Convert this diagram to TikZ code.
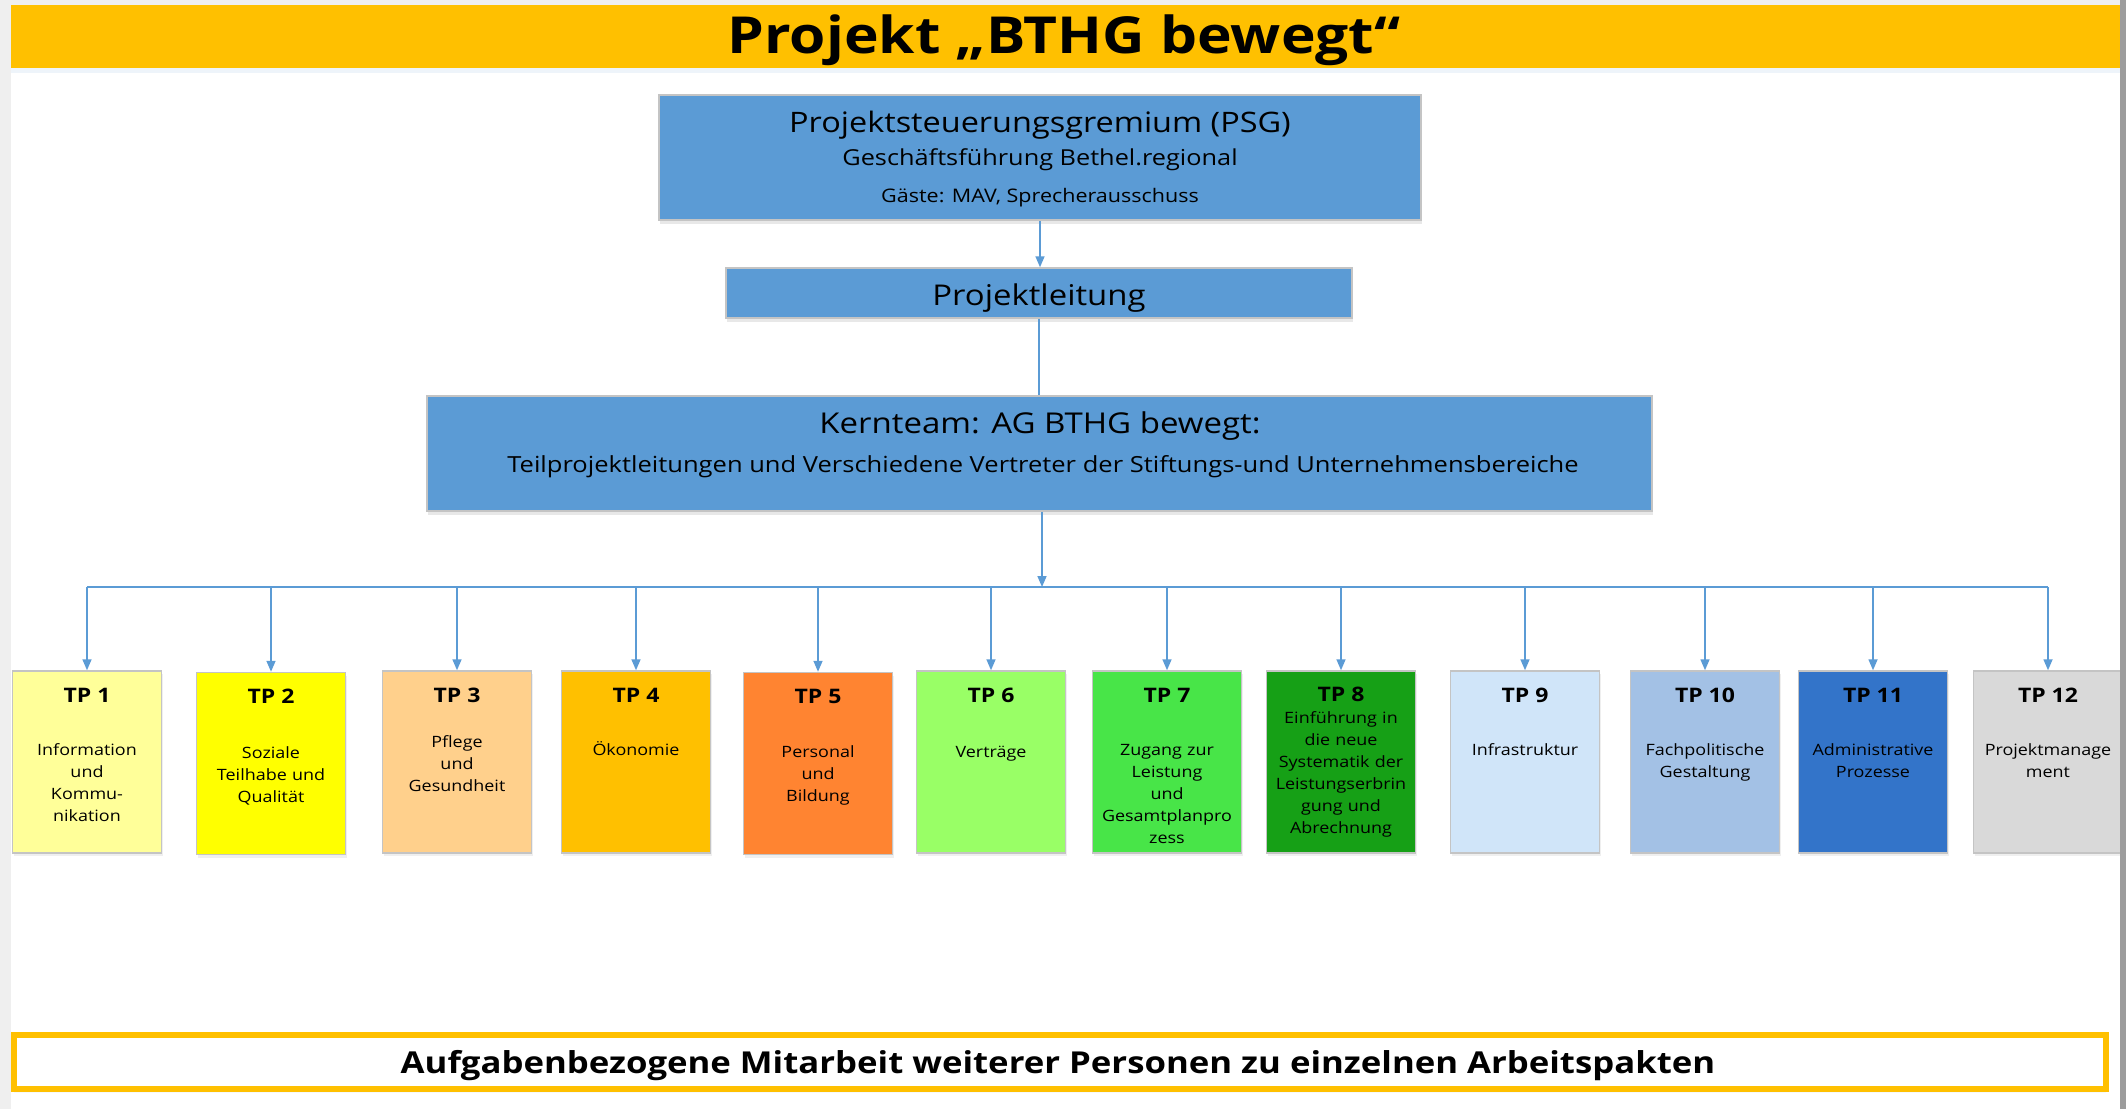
\documentclass[tikz,border=0pt]{standalone}
\usepackage{fontspec}
\setmainfont{Open Sans}[FakeStretch=1.15]
\usetikzlibrary{arrows.meta,positioning,shadows}

\definecolor{gold}{HTML}{FFC000}
\definecolor{officeblue}{HTML}{5B9BD5}
\definecolor{boxgray}{HTML}{C4C4C4}
\definecolor{pagegray}{HTML}{EFEFEF}
\definecolor{edgegray}{HTML}{9C9C9C}
\definecolor{tpA}{HTML}{FFFF99}
\definecolor{tpB}{HTML}{FFFF00}
\definecolor{tpC}{HTML}{FFD08C}
\definecolor{tpD}{HTML}{FFC000}
\definecolor{tpE}{HTML}{FF8431}
\definecolor{tpF}{HTML}{99FF66}
\definecolor{tpG}{HTML}{48E548}
\definecolor{tpH}{HTML}{16A016}
\definecolor{tpI}{HTML}{D0E5F9}
\definecolor{tpJ}{HTML}{A3C1E5}
\definecolor{tpK}{HTML}{3374C9}
\definecolor{tpL}{HTML}{D9D9D9}

\newcommand{\setfs}[2]{\fontsize{#1}{#2}\selectfont}

\tikzset{
	bluebox/.style={draw=boxgray, line width=1.5pt, fill=officeblue, inner sep=0pt,
		drop shadow={shadow xshift=1pt, shadow yshift=-4pt, opacity=0.18}},
	tpbox/.style={draw=boxgray, line width=1.5pt, fill=#1, minimum width=149pt,
		minimum height=182pt, inner sep=0pt,
		drop shadow={shadow xshift=1pt, shadow yshift=-3pt, opacity=0.12}},
	tptitle/.style={anchor=base, inner sep=0pt, font={\setfs{20}{24}\bfseries}},
	tpdesc/.style={anchor=base, inner sep=0pt, text width=148pt, align=center,
		font={\setfs{15.6}{22}}},
	boxtext/.style={anchor=base, inner sep=0pt},
	link/.style={draw=officeblue, line width=1.6pt},
}

\begin{document}
\begin{tikzpicture}[x=1pt, y=-1pt, >={Triangle[length=11pt,width=9pt]}]
	% Page
	\useasboundingbox (0,0) rectangle (2126,1109);
	\fill[white] (0,0) rectangle (2126,1109);
	\fill[pagegray] (0,0) rectangle (11,1109);
	\fill[pagegray] (0,0) rectangle (2126,5);

	% Title bar
	\node [fill=gold, minimum width=2109pt, minimum height=63pt, inner sep=0pt,
		drop shadow={shadow xshift=0pt, shadow yshift=-5pt, opacity=0.25, fill=officeblue!40}]
		(title) at (1065.5,36.5) {};
	\node [boxtext, font={\setfs{51}{60}\bfseries}] (titletext) at (1064,53) {Projekt „BTHG bewegt“};

	% Steering, lead and core team
	\node [bluebox, minimum width=762pt, minimum height=125pt] (psg) at (1040,157.5) {};
	\node [boxtext, font={\setfs{28.2}{32}}] (psgname)   at (1040,132) {Projektsteuerungsgremium (PSG)};
	\node [boxtext, font={\setfs{22}{26}}]   (psgboard)  at (1040,165) {Geschäftsführung Bethel.regional};
	\node [boxtext, font={\setfs{18.7}{22}}] (psgguests) at (1040,202) {Gäste: MAV, Sprecherausschuss};

	\node [bluebox, minimum width=626pt, minimum height=50pt] (pl) at (1039,293) {};
	\node [boxtext, font={\setfs{28.6}{32}}] (plname) at (1039,305) {Projektleitung};

	\node [bluebox, minimum width=1225pt, minimum height=115pt] (kern) at (1039.5,453.5) {};
	\node [boxtext, font={\setfs{28.7}{32}}] (kernname) at (1040,433) {Kernteam: AG BTHG bewegt:};
	\node [boxtext, font={\setfs{22.2}{26}}] (kernmembers) at (1043,472)
		{Teilprojektleitungen und Verschiedene Vertreter der Stiftungs-und Unternehmensbereiche};

	% Sub-projects TP 1 .. TP 12
	\node [tpbox=tpA] (tp1)  at (87,762)     {};
	\node [tpbox=tpB] (tp2)  at (271,763.5)  {};
	\node [tpbox=tpC] (tp3)  at (457,762)    {};
	\node [tpbox=tpD] (tp4)  at (636,762)    {};
	\node [tpbox=tpE] (tp5)  at (818,763.5)  {};
	\node [tpbox=tpF] (tp6)  at (991,762)    {};
	\node [tpbox=tpG] (tp7)  at (1167,762)   {};
	\node [tpbox=tpH] (tp8)  at (1341,762)   {};
	\node [tpbox=tpI] (tp9)  at (1525,762)   {};
	\node [tpbox=tpJ] (tp10) at (1705,762)   {};
	\node [tpbox=tpK] (tp11) at (1873,762)   {};
	\node [tpbox=tpL] (tp12) at (2048,762)   {};

	\node [tptitle] (tp1title)  at (87,702)    {TP 1};
	\node [tptitle] (tp2title)  at (271,703.5) {TP 2};
	\node [tptitle] (tp3title)  at (457,702)   {TP 3};
	\node [tptitle] (tp4title)  at (636,702)   {TP 4};
	\node [tptitle] (tp5title)  at (818,703.5) {TP 5};
	\node [tptitle] (tp6title)  at (991,702)   {TP 6};
	\node [tptitle] (tp7title)  at (1167,702)  {TP 7};
	\node [tptitle] (tp8title)  at (1341,701)  {TP 8};
	\node [tptitle] (tp9title)  at (1525,702)  {TP 9};
	\node [tptitle] (tp10title) at (1705,702)  {TP 10};
	\node [tptitle] (tp11title) at (1873,702)  {TP 11};
	\node [tptitle] (tp12title) at (2048,702)  {TP 12};

	\node [tpdesc] (tp1desc)  at (87,755)    {Information\\und\\Kommu-\\nikation};
	\node [tpdesc] (tp2desc)  at (271,758)   {Soziale\\Teilhabe und\\Qualität};
	\node [tpdesc] (tp3desc)  at (457,747)   {Pflege\\und\\Gesundheit};
	\node [tpdesc] (tp4desc)  at (636,755)   {Ökonomie};
	\node [tpdesc] (tp5desc)  at (818,757.5) {Personal\\und\\Bildung};
	\node [tpdesc] (tp6desc)  at (991,757.5) {Verträge};
	\node [tpdesc] (tp7desc)  at (1167,755)  {Zugang zur\\Leistung\\und\\Gesamtplanpro\\zess};
	\node [tpdesc] (tp8desc)  at (1341,723)  {Einführung in\\die neue\\Systematik der\\Leistungserbrin\\gung und\\Abrechnung};
	\node [tpdesc] (tp9desc)  at (1525,755)  {Infrastruktur};
	\node [tpdesc] (tp10desc) at (1705,755)  {Fachpolitische\\Gestaltung};
	\node [tpdesc] (tp11desc) at (1873,755)  {Administrative\\Prozesse};
	\node [tpdesc] (tp12desc) at (2048,755)  {Projektmanage\\ment};

	% Connectors
	\coordinate (bus) at (1042,587);
	\draw [link, ->] (psg.south) -- (psg.south |- pl.north);
	\draw [link] (pl.south) -- (pl.south |- kern.north);
	\draw [link, ->] (kern.south -| bus) -- (bus);
	\draw [link] (tp1.north |- bus) -- (tp12.north |- bus);
	\draw [link, ->] (tp1.north |- bus)  -- (tp1.north);
	\draw [link, ->] (tp2.north |- bus)  -- (tp2.north);
	\draw [link, ->] (tp3.north |- bus)  -- (tp3.north);
	\draw [link, ->] (tp4.north |- bus)  -- (tp4.north);
	\draw [link, ->] (tp5.north |- bus)  -- (tp5.north);
	\draw [link, ->] (tp6.north |- bus)  -- (tp6.north);
	\draw [link, ->] (tp7.north |- bus)  -- (tp7.north);
	\draw [link, ->] (tp8.north |- bus)  -- (tp8.north);
	\draw [link, ->] (tp9.north |- bus)  -- (tp9.north);
	\draw [link, ->] (tp10.north |- bus) -- (tp10.north);
	\draw [link, ->] (tp11.north |- bus) -- (tp11.north);
	\draw [link, ->] (tp12.north |- bus) -- (tp12.north);

	% Further staff
	\node [draw=gold, fill=white, line width=6pt, minimum width=2092pt, minimum height=54pt, inner sep=0pt,
		drop shadow={shadow xshift=0pt, shadow yshift=-4pt, opacity=0.15, fill=officeblue!40}]
		(staff) at (1060,1062) {};
	\node [boxtext, font={\setfs{30.2}{34}\bfseries}] (stafftext) at (1058,1073)
		{Aufgabenbezogene Mitarbeit weiterer Personen zu einzelnen Arbeitspakten};

	% Right edge
	\fill[edgegray] (2120,0) rectangle (2126,1109);
\end{tikzpicture}
\end{document}
